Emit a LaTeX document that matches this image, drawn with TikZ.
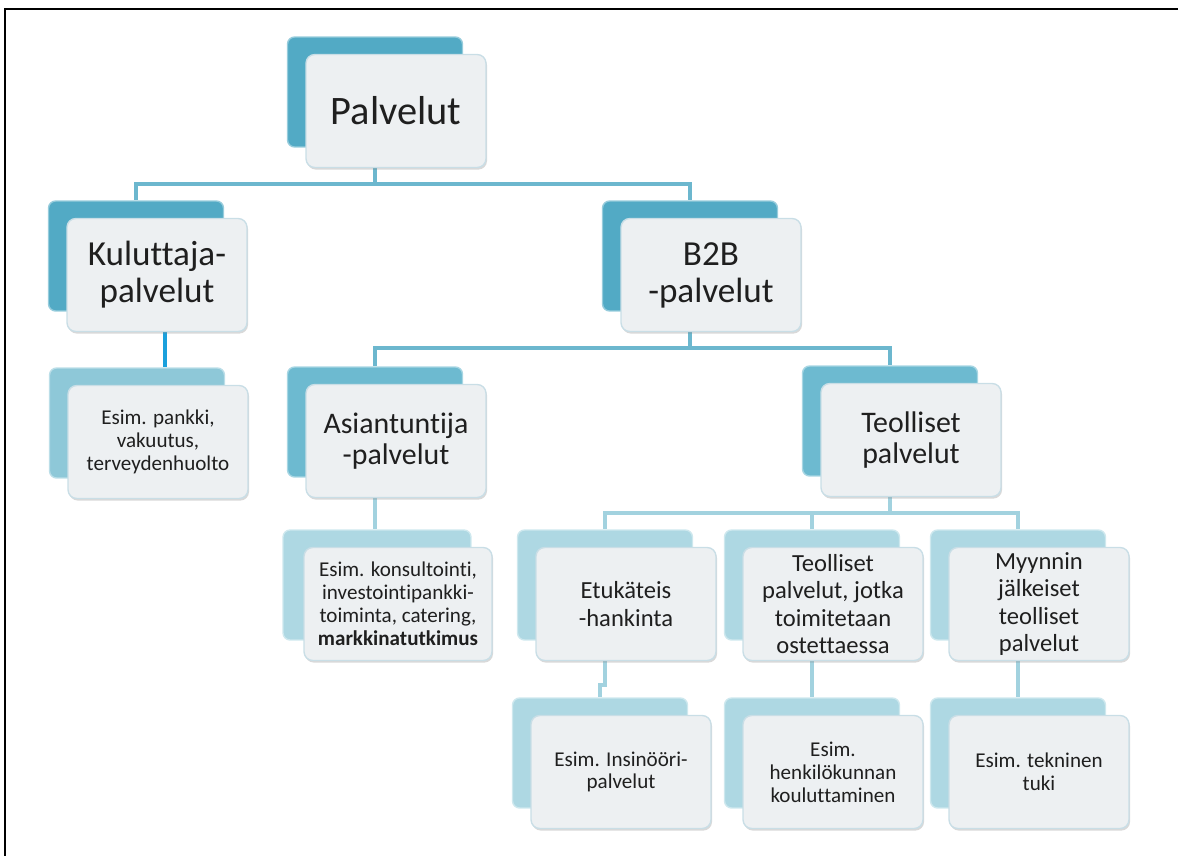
\documentclass[tikz,border=0pt]{standalone}
\usepackage{fontspec}
\setmainfont{Carlito}[Ligatures={NoCommon,NoContextual}, RawFeature={-liga;-clig}]
\usetikzlibrary{shadows,backgrounds}
\usepackage{xcolor}

\definecolor{sini1}{HTML}{52AAC5}
\definecolor{sini2}{HTML}{6DBAD0}
\definecolor{sini3}{HTML}{8EC8D8}
\definecolor{sini4}{HTML}{AED8E3}
\definecolor{etu}{HTML}{EDF0F2}
\definecolor{reuna}{HTML}{C9DEE6}
\definecolor{viiva1}{HTML}{6CB7CE}
\definecolor{viiva2}{HTML}{A2D2DF}
\definecolor{kirkas}{HTML}{1AA0DC}
\definecolor{teksti}{HTML}{1F1F1F}

\newcommand{\kokoA}{\fontsize{23}{25}\selectfont}
\newcommand{\kokoB}{\fontsize{20}{21}\selectfont}
\newcommand{\kokoC}{\fontsize{17}{17.5}\selectfont}
\newcommand{\kokoD}{\fontsize{14}{15.5}\selectfont}
\newcommand{\kokoE}{\fontsize{12}{13}\selectfont}

\tikzset{
  takaosa/.style={rounded corners=4pt, fill=#1, draw=#1!60!white, line width=0.8pt,
    minimum width=3.5cm, minimum height=2.2cm},
  etuosa/.style={rounded corners=5pt, fill=etu, draw=reuna, line width=0.8pt,
    minimum width=3.6cm, minimum height=2.26cm, align=center, text=teksti, inner sep=2pt,
    drop shadow={shadow xshift=0.6pt, shadow yshift=-1.2pt, opacity=0.3}},
  liitos/.style={line width=2.1pt, draw=#1},
}

\begin{document}
\begin{tikzpicture}[x=0.02cm, y=-0.02cm]
  \newcommand{\kortti}[7][]{%
    \node[takaosa=#5, #1] (#2B) at (#3,#4) {};
    \node[etuosa, font=#6, #1] (#2) at (#3+21,#4+19) {#7};
  }
  \useasboundingbox (0,0) rectangle (1178,856);
  \draw[line width=1.6pt] (5,856) -- (5,9) -- (1178,9);

  \kortti{palvelut}{375}{92}{sini1}{\kokoA}{Palvelut}
  \kortti{kuluttaja}{136}{256}{sini1}{\kokoB}{Kuluttaja-\\palvelut}
  \kortti{b2b}{690}{256}{sini1}{\kokoB}{B2B\\-palvelut}
  \kortti{esim1}{137}{423}{sini3}{\kokoE}{Esim. pankki,\\vakuutus,\\terveydenhuolto}
  \kortti{asiant}{375}{422}{sini2}{\kokoC}{Asiantuntija\\-palvelut}
  \kortti{teoll}{890}{421}{sini2}{\kokoC}{Teolliset\\palvelut}
  \kortti[minimum width=3.76cm]{esim2}{377}{585}{sini4}{\kokoE}%
    {Esim. konsultointi,\\investointipankki-\\toiminta, catering,\\\textbf{markkinatutkimus}}
  \kortti{etuk}{605}{585}{sini4}{\kokoD}{Etukäteis\\-hankinta}
  \kortti{teoll2}{812}{585}{sini4}{\kokoD}{Teolliset\\palvelut, jotka\\toimitetaan\\ostettaessa}
  \kortti{myynti}{1018}{585}{sini4}{\kokoD}{Myynnin\\jälkeiset\\teolliset\\palvelut}
  \kortti{esim3}{600}{753}{sini4}{\kokoE}{Esim. Insinööri-\\palvelut}
  \kortti{esim4}{812}{753}{sini4}{\kokoE}{Esim.\\henkilökunnan\\kouluttaminen}
  \kortti{esim5}{1018}{753}{sini4}{\kokoE}{Esim. tekninen\\tuki}

  \begin{scope}[on background layer]
    \draw[liitos=viiva1] (palvelutB.center) -- (palvelutB.center |- 0,184) -| (kuluttajaB.north);
    \draw[liitos=viiva1] (palvelutB.center |- 0,184) -| (b2bB.north);
    \draw[liitos=kirkas] (kuluttaja.south -| 165,0) -- (esim1B.north -| 165,0);
    \draw[liitos=viiva1] (b2bB.center) -- (b2bB.center |- 0,348) -| (asiantB.north);
    \draw[liitos=viiva1] (b2bB.center |- 0,348) -| (teollB.north);
    \draw[liitos=viiva2] (asiantB.center) -- (asiantB.center |- esim2B.north);
    \draw[liitos=viiva2] (teollB.center) -- (teollB.center |- 0,513) -| (etukB.north);
    \draw[liitos=viiva2] (teollB.center |- 0,513) -| (teoll2B.north);
    \draw[liitos=viiva2] (teollB.center |- 0,513) -| (myyntiB.north);
    \draw[liitos=viiva2] (etukB.center) -- (etukB.center |- 0,685) -| (esim3B.north);
    \draw[liitos=viiva2] (teoll2B.center) -- (esim4B.north);
    \draw[liitos=viiva2] (myyntiB.center) -- (esim5B.north);
  \end{scope}
\end{tikzpicture}
\end{document}
